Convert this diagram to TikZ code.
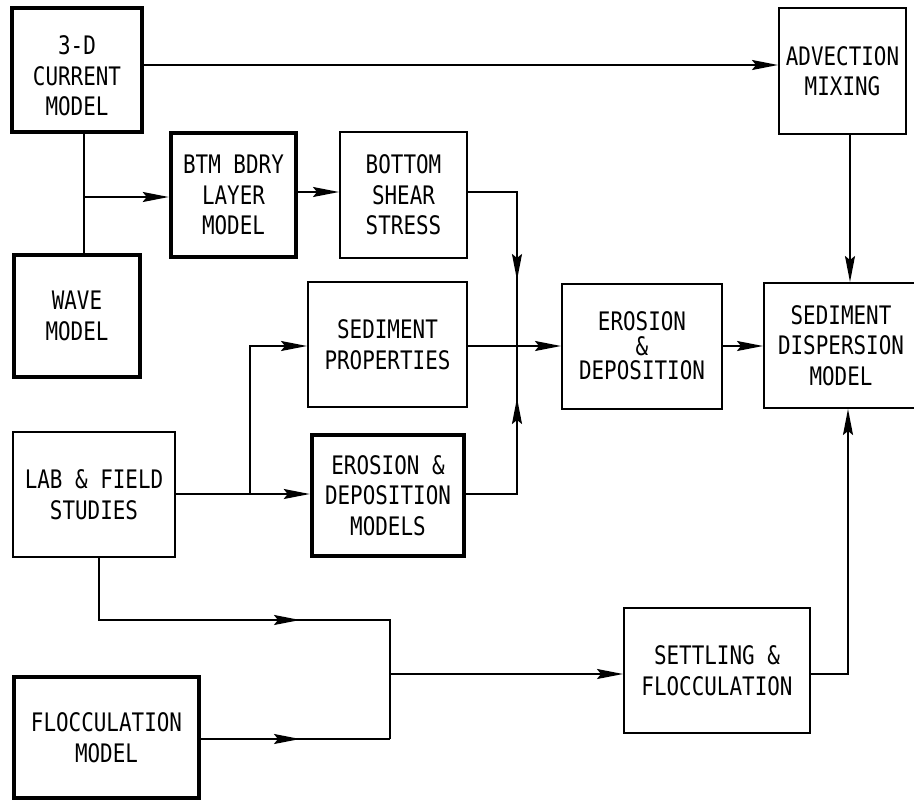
\documentclass[tikz,border=0pt]{standalone}
\usepackage{fontspec}
\newfontfamily\plotfont[FakeStretch=0.82]{DejaVu Sans Mono}
\usetikzlibrary{arrows.meta}
\begin{document}
\begin{tikzpicture}[x=1pt,y=-1pt,
  box/.style={draw, line width=2pt, rectangle, inner sep=0pt, align=center,
    font=\plotfont\fontsize{25.5}{30.5}\selectfont},
  thickbox/.style={box, line width=4.5pt},
  lbl/.style={inner sep=0pt, align=center, font=\plotfont\fontsize{25.5}{30.5}\selectfont},
  wire/.style={line width=2pt},
  arr/.style={wire, -{Stealth[length=26pt,width=10pt,inset=4pt]}},
  bx/.style args={#1/#2}{minimum width=#1pt, minimum height=#2pt}]
\useasboundingbox (0,0) rectangle (914,801);
% nodes
\node[thickbox, bx=130/124] (cur) at (77,70) {};
\node[lbl] (curtxt) at (77,76) {3-D\\CURRENT\\MODEL};
\node[box, bx=127/126] (adv) at (842.5,71) {ADVECTION\\MIXING};
\node[thickbox, bx=125/124] (btm) at (233.5,195) {BTM BDRY\\LAYER\\MODEL};
\node[box, bx=127/126] (shear) at (403.5,195) {BOTTOM\\SHEAR\\STRESS};
\node[thickbox, bx=126/122] (wave) at (77,316) {WAVE\\MODEL};
\node[box, bx=159/125] (sed) at (387.5,344.5) {SEDIMENT\\PROPERTIES};
\node[box, bx=160/125] (ero) at (642,346) {EROSION\\[-6pt]\&\\[-6pt]DEPOSITION};
\node[box, bx=154/125] (sdm) at (841,345.5) {SEDIMENT\\DISPERSION\\MODEL};
\node[box, bx=162/125] (lab) at (94,494.5) {LAB \& FIELD\\STUDIES};
\node[thickbox, bx=152/121] (edm) at (388,495.5) {EROSION \&\\DEPOSITION\\MODELS};
\node[box, bx=186/125] (set) at (717,670.5) {SETTLING \&\\FLOCCULATION};
\node[thickbox, bx=185/121] (floc) at (106.5,737.5) {FLOCCULATION\\MODEL};
% junction coordinates
\coordinate (j1) at (84,197);
\coordinate (jr) at (517,346);
\coordinate (jd) at (517,280);
\coordinate (ju) at (517,398);
\coordinate (jl) at (250,494);
\coordinate (m1) at (300,620);
\coordinate (m2) at (300,739);
\coordinate (jm) at (390,674);
\coordinate (jx) at (390,620);
\coordinate (jy) at (390,739);
\coordinate (js) at (848,674);
% connectors
\draw[arr] ([yshift=5pt]cur.east) -- ([yshift=5pt]cur.east -| adv.west);
\draw[wire] (cur.south -| j1) -- (wave.north -| j1);
\draw[arr] (j1) -- (j1 -| btm.west);
\draw[arr] ([yshift=3pt]btm.east) -- ([yshift=3pt]btm.east -| shear.west);
\draw[wire] ([yshift=3pt]shear.east) -| (jr);
\draw[arr] ([yshift=30pt]jd) -- (jd);
\draw[wire] (edm.east |- jl) -| (jr);
\draw[arr] ([yshift=-30pt]ju) -- (ju);
\draw[arr] (sed.east |- jr) -- (jr -| ero.west);
\draw[arr] (ero.east |- jr) -- (jr -| sdm.west);
\draw[arr] (adv.south -| 850,0) -- (sdm.north -| 850,0);
\draw[arr] (lab.east |- jl) -- (jl -| edm.west);
\draw[arr] (jl) |- (jr -| sed.west);
\draw[wire] (lab.south -| 99,0) |- (jx) -- (jy);
\draw[arr] ([xshift=-30pt]m1) -- (m1);
\draw[wire] (floc.east |- m2) -- (jy);
\draw[arr] ([xshift=-30pt]m2) -- (m2);
\draw[arr] (jm) -- (jm -| set.west);
\draw[arr] (set.east |- js) -| (sdm.south -| js);
\end{tikzpicture}
\end{document}
